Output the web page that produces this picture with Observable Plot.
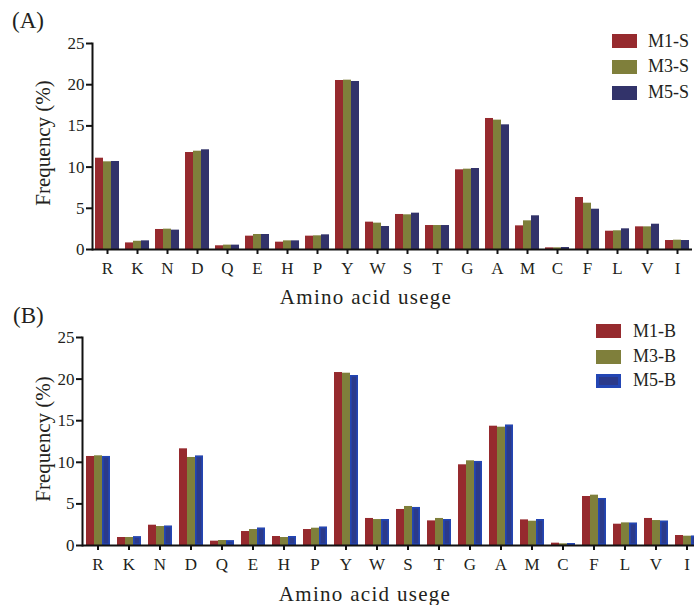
<!DOCTYPE html>
<html>
<head>
<meta charset="utf-8">
<script src="https://cdn.jsdelivr.net/npm/d3@7"></script>
<script src="https://cdn.jsdelivr.net/npm/@observablehq/plot@0.6"></script>
<style>
  html, body { margin: 0; padding: 0; background: #fff; overflow: hidden; }
  #root { position: relative; width: 694px; height: 605px; overflow: hidden; font-family: "Liberation Serif", "Times New Roman", serif; color: #231f20; }
  .abs { position: absolute; line-height: 1; white-space: nowrap; }
  .panel { position: absolute; left: 0; width: 720px; }
  .panel svg { max-width: none !important; }
  .sw { position: absolute; width: 25px; height: 14px; box-sizing: border-box; }
</style>
</head>
<body>
<div id="root">
  <div id="panelA" class="panel" style="top:0"></div>
  <div id="panelB" class="panel" style="top:295px"></div>
</div>
<script>
// ---- data ----
const aminoAcids = ["R","K","N","D","Q","E","H","P","Y","W","S","T","G","A","M","C","F","L","V","I"];
const yTicks = [0, 5, 10, 15, 20, 25];

const seriesA = ["M1-S", "M3-S", "M5-S"];
const m1S = [11.08, 0.80, 2.43, 11.77, 0.45, 1.62, 0.89, 1.62, 20.51, 3.32, 4.25, 2.91, 9.67, 15.90, 2.87, 0.20, 6.31, 2.22, 2.75, 1.09];
const m3S = [10.64, 1.00, 2.47, 11.93, 0.53, 1.82, 1.05, 1.66, 20.55, 3.20, 4.21, 2.91, 9.75, 15.70, 3.48, 0.20, 5.62, 2.27, 2.75, 1.13];
const m5S = [10.68, 1.05, 2.35, 12.10, 0.53, 1.82, 1.05, 1.78, 20.39, 2.79, 4.41, 2.91, 9.83, 15.13, 4.09, 0.24, 4.89, 2.51, 3.07, 1.09];

const seriesB = ["M1-B", "M3-B", "M5-B"];
const m1B = [10.70, 0.96, 2.44, 11.62, 0.52, 1.68, 1.08, 1.92, 20.79, 3.25, 4.33, 2.96, 9.70, 14.34, 3.08, 0.28, 5.89, 2.56, 3.25, 1.20];
const m3B = [10.78, 0.96, 2.28, 10.58, 0.60, 1.92, 0.96, 2.08, 20.71, 3.12, 4.69, 3.25, 10.18, 14.22, 2.92, 0.20, 6.05, 2.72, 3.00, 1.12];
const m5B = [10.70, 1.04, 2.32, 10.74, 0.56, 2.08, 1.08, 2.20, 20.43, 3.12, 4.57, 3.12, 10.10, 14.46, 3.12, 0.24, 5.65, 2.68, 2.92, 1.12];

const colorsA = ["#962a2e", "#7f7f3b", "#32336a"];
const colorsB = ["#962a2e", "#7f7f3b", "#2b3a8a"];
const blueEdge = "#2346b4";

const yLabel = "Frequency (%)";
const xLabel = "Amino acid usege";

function buildRows(series, cols) {
  const rows = [];
  aminoAcids.forEach((aa, i) => series.forEach((s, k) => rows.push({aa, series: s, value: cols[k][i]})));
  return rows;
}

function panel(series, cols, colors, o) {
  const rows = buildRows(series, cols);
  const marks = [
    Plot.barY(rows, {fx: "aa", x: "series", y: "value", fill: "series"}),
  ];
  if (o.edge) {
    marks.push(Plot.barY(rows, {filter: d => d.series === series[2], fx: "aa", x: "series", y: "value",
      fill: "none", stroke: o.edge, strokeWidth: 1.6, inset: 0.8}));
  }
  marks.push(
    Plot.ruleY([0], {stroke: "#111", strokeWidth: 2}),
    Plot.frame({anchor: "left", facet: "super", stroke: "#111", strokeWidth: 2}),
    Plot.axisY({ticks: yTicks, tickSize: 6, tickPadding: 2, stroke: "#111", strokeWidth: 2, fontSize: 17, fill: "#231f20", label: null}),
    Plot.axisFx({anchor: "bottom", tickSize: 5, tickPadding: 7, stroke: "#111", strokeWidth: 2, fontSize: 17, fill: "#231f20", label: null})
  );
  return Plot.plot({
    width: o.width, height: 295,
    marginLeft: o.ml, marginRight: 0, marginTop: o.mt, marginBottom: o.mb,
    style: {fontFamily: "Liberation Serif", fontSize: "17px", background: "transparent", overflow: "visible", maxWidth: "none"},
    fx: {domain: aminoAcids, padding: 0, label: null},
    x: {domain: series, axis: null, paddingInner: 0, paddingOuter: 0.35},
    y: {domain: [0, 25], label: null},
    color: {domain: series, range: colors},
    marks
  });
}

document.getElementById("panelA").append(panel(seriesA, [m1S, m3S, m5S], colorsA, {width: 701, ml: 82, mt: 43, mb: 46}));
document.getElementById("panelB").append(panel(seriesB, [m1B, m3B, m5B], colorsB, {width: 702, ml: 81, mt: 42, mb: 45, edge: blueEdge}));

// ---- text & legends (HTML) ----
const root = document.getElementById("root");
function addText(txt, x, baseline, size, extra) {
  const d = document.createElement("div");
  d.className = "abs";
  d.textContent = txt;
  d.style.fontSize = size + "px";
  d.style.left = x + "px";
  d.style.top = (baseline - 0.8375 * size) + "px";
  if (extra) Object.assign(d.style, extra);
  root.append(d);
  return d;
}
function addCentered(txt, cx, baseline, size, extra) {
  const d = addText(txt, cx, baseline, size, extra);
  d.style.transform = "translateX(-50%)";
  return d;
}
function addRotated(txt, cx, cy, size) {
  const d = document.createElement("div");
  d.className = "abs";
  d.textContent = txt;
  d.style.fontSize = size + "px";
  d.style.left = cx + "px";
  d.style.top = cy + "px";
  d.style.transform = "translate(-50%, -50%) rotate(-90deg)";
  root.append(d);
}

addText("(A)", 12, 28.5, 23);
addText("(B)", 13, 323.5, 23);
addRotated(yLabel, 43, 143, 21);
addRotated(yLabel, 43, 439, 21);
addCentered(xLabel, 366, 305, 21, {letterSpacing: "1.3px"});
addCentered(xLabel, 365, 602, 21, {letterSpacing: "1.3px"});

function legend(series, colors, x, tops, labelX, edge) {
  series.forEach((s, i) => {
    const sw = document.createElement("div");
    sw.className = "sw";
    sw.style.left = x + "px";
    sw.style.top = tops[i] + "px";
    sw.style.background = colors[i];
    if (edge && i === 2) sw.style.border = "3px solid " + edge;
    root.append(sw);
    addText(s, labelX, tops[i] + 13, 18);
  });
}
legend(seriesA, colorsA, 612, [34, 59.5, 85.5], 648);
legend(seriesB, colorsB, 596, [324, 349.5, 373.5], 633, blueEdge);
</script>
</body>
</html>
